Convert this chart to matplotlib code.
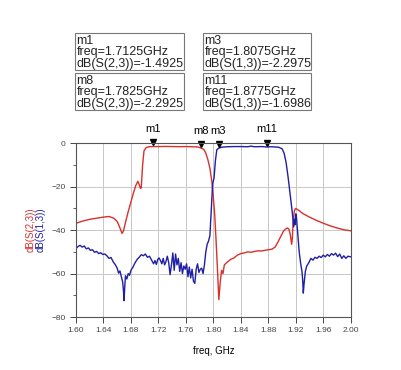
import matplotlib.pyplot as plt
import matplotlib.transforms as mtransforms
from matplotlib.patches import Rectangle
import numpy as np

plt.rcParams['font.family'] = ['Liberation Sans', 'DejaVu Sans']

# dB(S(2,3)) - red trace
freq_s23 = [1.600, 1.610, 1.620, 1.630, 1.640, 1.648, 1.655, 1.660, 1.664, 1.667,
            1.669, 1.672, 1.676, 1.680, 1.684, 1.687, 1.690, 1.692, 1.694, 1.695,
            1.697, 1.699, 1.702, 1.706, 1.7125, 1.720, 1.730, 1.740, 1.750, 1.760,
            1.770, 1.778, 1.7825, 1.786, 1.789, 1.792, 1.795, 1.798, 1.800, 1.802,
            1.804, 1.806, 1.808, 1.810, 1.812, 1.814, 1.816, 1.820, 1.825, 1.830,
            1.835, 1.840, 1.845, 1.850, 1.855, 1.860, 1.865, 1.870, 1.875, 1.880,
            1.885, 1.890, 1.894, 1.898, 1.902, 1.905, 1.908, 1.910, 1.912, 1.914,
            1.915, 1.916, 1.918, 1.920, 1.925, 1.930, 1.940, 1.950, 1.960, 1.970,
            1.980, 1.990, 2.000]
db_s23 = [-36.8, -35.8, -35.0, -34.5, -34.0, -33.7, -34.5, -36.0, -39.0, -41.5,
          -40.5, -36.5, -31.5, -27.0, -22.5, -19.5, -17.5, -19.0, -20.8, -20.5,
          -10.0, -3.5, -2.0, -1.6, -1.49, -1.5, -1.45, -1.5, -1.55, -1.5,
          -1.6, -1.7, -2.29, -2.8, -4.5, -7.5, -11.5, -18.0, -25.0, -33.0,
          -45.0, -58.0, -72.0, -64.0, -58.5, -60.0, -56.0, -54.8, -53.5, -52.8,
          -51.5, -50.8, -50.5, -50.0, -50.2, -49.8, -49.5, -49.6, -49.3, -49.0,
          -48.8, -47.8, -45.5, -43.0, -40.5, -39.5, -39.0, -39.5, -42.0, -46.5,
          -44.0, -37.0, -31.0, -30.0, -31.0, -32.3, -34.0, -35.5, -36.8, -38.0,
          -39.0, -39.8, -40.3]

# dB(S(1,3)) - blue trace
freq_s13 = [1.600, 1.603, 1.606, 1.609, 1.612, 1.615, 1.618, 1.621, 1.624, 1.627,
            1.630, 1.633, 1.636, 1.639, 1.642, 1.645, 1.648, 1.651, 1.654, 1.657,
            1.660, 1.662, 1.664, 1.666, 1.668, 1.669, 1.670, 1.671, 1.672, 1.674,
            1.676, 1.678, 1.680, 1.683, 1.686, 1.689, 1.692, 1.695, 1.698, 1.701,
            1.704, 1.707, 1.710, 1.713, 1.715, 1.717, 1.719, 1.721, 1.723, 1.725,
            1.727, 1.729, 1.731, 1.733, 1.735, 1.737, 1.739, 1.741, 1.743, 1.745,
            1.747, 1.749, 1.751, 1.753, 1.755, 1.757, 1.759, 1.761, 1.763, 1.765,
            1.767, 1.769, 1.771, 1.773, 1.775, 1.777, 1.779, 1.781, 1.783, 1.785,
            1.787, 1.789, 1.791, 1.793, 1.795, 1.797, 1.799, 1.801, 1.803, 1.805,
            1.8075, 1.812, 1.820, 1.830, 1.840, 1.850, 1.855, 1.860, 1.870, 1.8775,
            1.885, 1.895, 1.900, 1.903, 1.906, 1.909, 1.912, 1.915, 1.917, 1.918,
            1.919, 1.920, 1.921, 1.923, 1.925, 1.927, 1.929, 1.930, 1.931, 1.932,
            1.934, 1.936, 1.939, 1.942, 1.945, 1.948, 1.951, 1.954, 1.957, 1.960,
            1.963, 1.966, 1.969, 1.972, 1.975, 1.978, 1.981, 1.984, 1.987, 1.990,
            1.993, 1.996, 2.000]
db_s13 = [-48.5, -47.5, -47.0, -47.8, -47.3, -48.6, -48.2, -49.3, -49.0, -50.2,
          -49.8, -50.8, -50.4, -51.2, -51.0, -51.8, -53.0, -52.6, -54.5, -55.8,
          -57.5, -59.8, -58.8, -61.5, -64.0, -67.5, -72.5, -66.0, -61.0, -62.5,
          -60.0, -60.8, -58.5, -57.0, -55.0, -53.5, -52.5, -51.3, -51.8, -51.0,
          -52.5, -52.0, -53.8, -55.5, -54.0, -55.8, -53.5, -52.8, -54.0, -55.5,
          -53.0, -56.0, -54.5, -52.0, -55.0, -60.5, -56.0, -50.5, -58.5, -51.0,
          -56.0, -53.0, -59.0, -55.0, -60.0, -56.5, -58.0, -55.5, -61.5, -57.0,
          -62.0, -58.0, -63.5, -64.5, -58.0, -55.5, -59.5, -58.0, -57.5, -60.0,
          -56.0, -50.0, -46.5, -45.0, -42.5, -30.0, -18.5, -16.0, -8.0, -3.0,
          -2.30, -1.8, -1.6, -1.5, -1.5, -1.6, -1.3, -1.6, -1.5, -1.70,
          -1.6, -1.8, -2.5, -4.5, -9.0, -16.0, -24.0, -32.0, -38.5, -35.0,
          -37.5, -32.5, -34.0, -42.0, -50.0, -55.0, -59.0, -62.5, -69.0, -65.0,
          -59.0, -56.5, -55.0, -53.0, -53.8, -52.5, -53.0, -52.0, -52.6, -51.5,
          -52.3, -51.2, -52.0, -50.8, -51.5, -50.6, -52.2, -51.0, -53.0, -51.8,
          -53.0, -52.0, -52.3]

# markers
marker_names = ['m1', 'm8', 'm3', 'm11']
marker_freqs = [1.7125, 1.7825, 1.8075, 1.8775]
marker_vals = [-1.4925, -2.2925, -2.2975, -1.6986]
marker_traces = ['dB(S(2,3))', 'dB(S(2,3))', 'dB(S(1,3))', 'dB(S(1,3))']

xticks = [1.60, 1.64, 1.68, 1.72, 1.76, 1.80, 1.84, 1.88, 1.92, 1.96, 2.00]
yticks = [0, -20, -40, -60, -80]

red = '#d8302c'
blue = '#1f1fa6'

W, H = 402, 370
fig = plt.figure(figsize=(W / 100, H / 100), dpi=100)
ax = fig.add_axes([76 / W, 1 - 317 / H, 274.7 / W, 173.7 / H])

ax.plot(freq_s23, db_s23, color=red, lw=1.0)
ax.plot(freq_s13, db_s13, color=blue, lw=1.0)

ax.set_xlim(1.60, 2.00)
ax.set_ylim(-80, 0)
ax.set_xticks(xticks)
ax.set_xticklabels(['%.2f' % t for t in xticks])
ax.set_yticks(yticks)
ax.set_yticks([-10, -30, -50, -70], minor=True)
ax.grid(True, color='#c8c8c8', lw=0.7)
ax.tick_params(labelsize=6, colors='#444444', length=4, width=0.7, direction='out')
ax.tick_params(which='minor', length=2, width=0.6, colors='#444444')
for s in ax.spines.values():
    s.set_color('#555555')
    s.set_linewidth(0.8)
ax.set_xlabel('freq, GHz', fontsize=7, labelpad=8)

fig.text(31 / W, 1 - 230 / H, 'dB(S(2,3))', color=red, fontsize=7,
         rotation=90, ha='center', va='center')
fig.text(41 / W, 1 - 230 / H, 'dB(S(1,3))', color=blue, fontsize=7,
         rotation=90, ha='center', va='center')

# marker triangles and labels
tri = mtransforms.offset_copy(ax.transData, fig=fig, x=0, y=3, units='points')
for name, f, v in zip(marker_names, marker_freqs, marker_vals):
    ax.plot([f], [v], marker='v', color='black', ms=4.5, transform=tri, clip_on=False)
    ax.annotate(name, (f, v), xytext=(0, 9), textcoords='offset points',
                ha='center', va='bottom', fontsize=8, annotation_clip=False)

# marker readout boxes
boxes = [(75, 33, 0), (203, 33, 2), (75, 73, 1), (203, 73, 3)]
for x0, y0, i in boxes:
    fig.add_artist(Rectangle((x0 / W, 1 - (y0 + 36.5) / H), 108.5 / W, 36.5 / H,
                             transform=fig.transFigure, fill=False,
                             edgecolor='#777777', lw=0.8))
    lines = [marker_names[i],
             'freq=%.4fGHz' % marker_freqs[i],
             '%s=%s' % (marker_traces[i], ('%.4f' % marker_vals[i]))]
    for k, txt in enumerate(lines):
        fig.text((x0 + 1.5) / W, 1 - (y0 + 7.5 + 11.7 * k) / H, txt,
                 fontsize=9, ha='left', va='center', color='#222222')

fig.savefig('out.png', dpi=100)
